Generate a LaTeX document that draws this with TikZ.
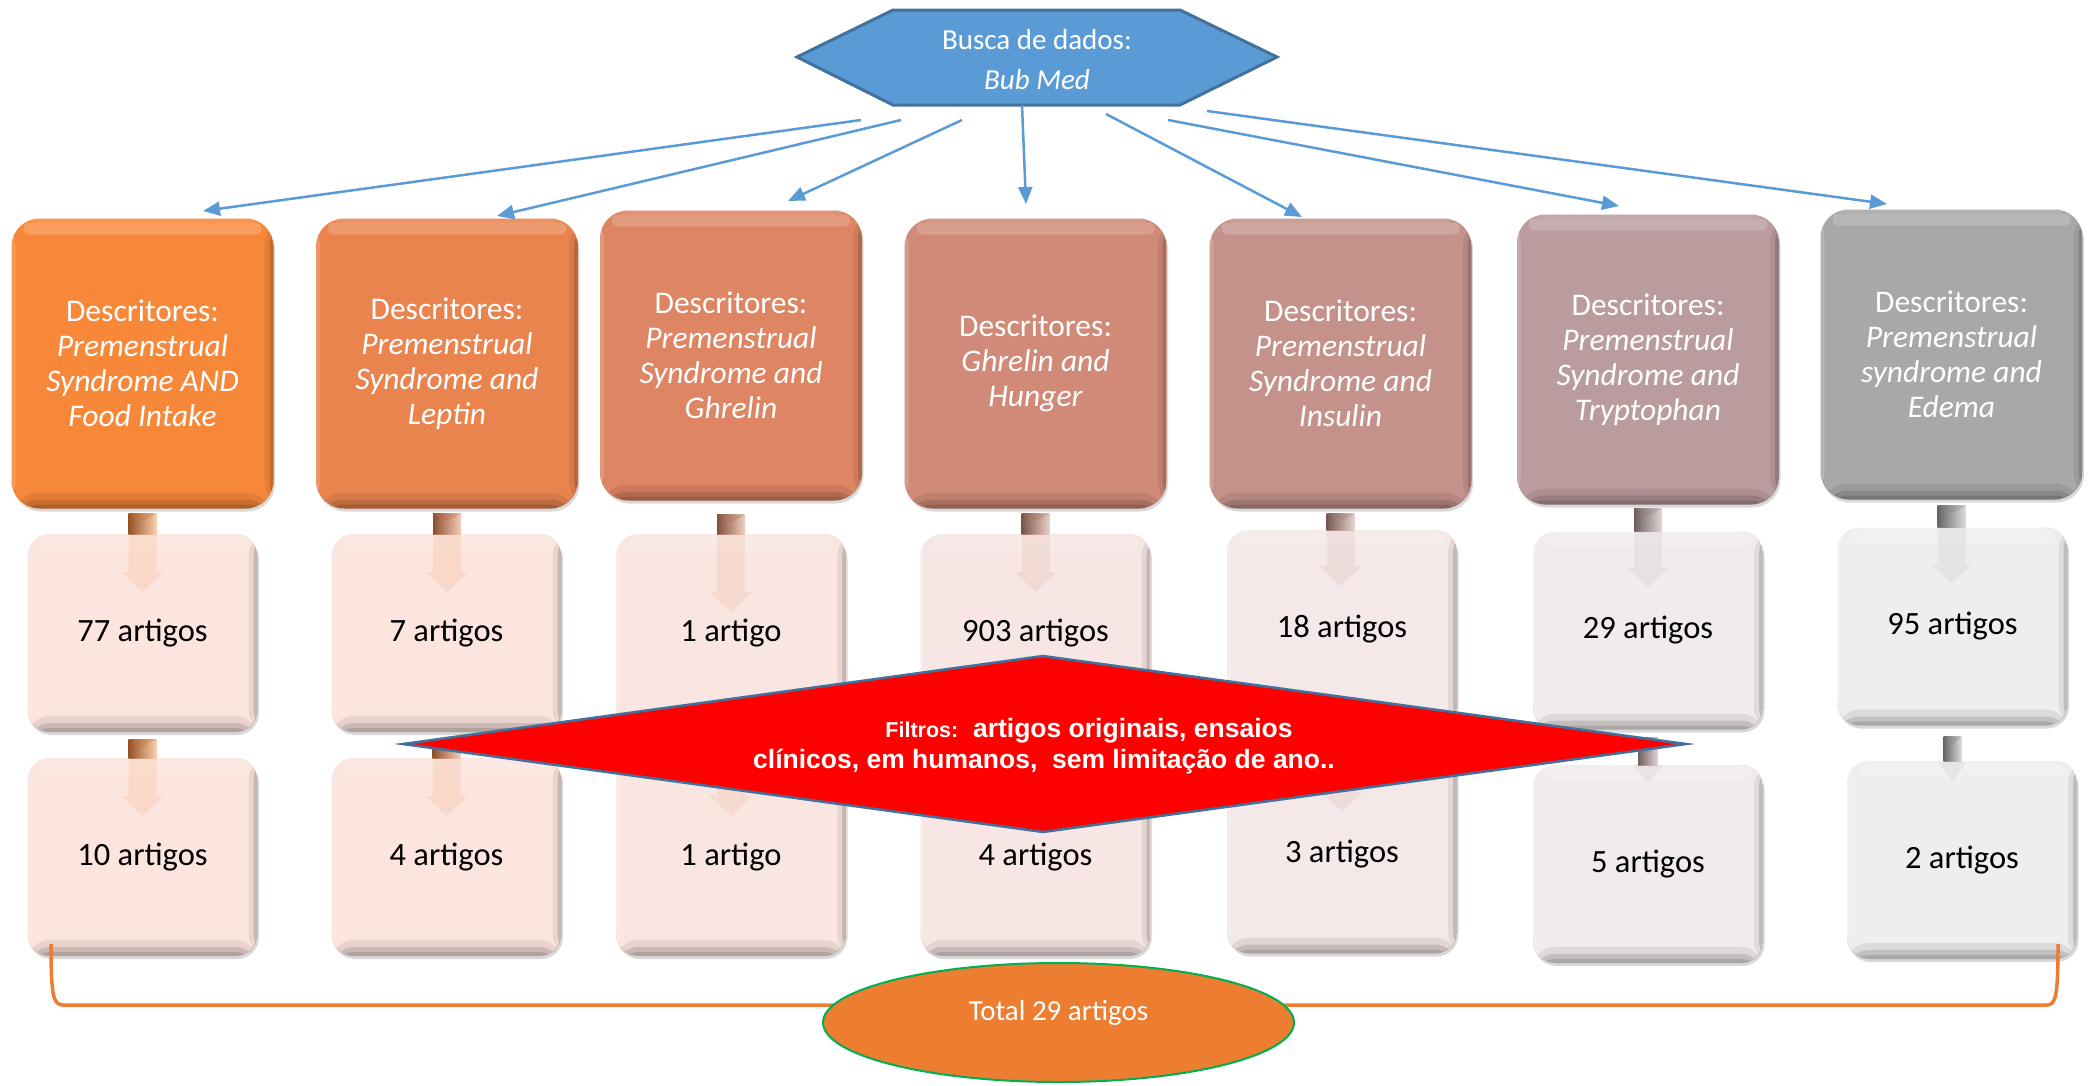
\documentclass[tikz,border=0pt]{standalone}
\usepackage{fontspec}
\setmainfont{Carlito}
\newfontfamily\arialfont{Liberation Sans}
\usetikzlibrary{arrows.meta,shapes.geometric,calc,shadows}

\definecolor{blueA}{HTML}{5B9BD5}
\definecolor{blueB}{HTML}{41719C}
\definecolor{orng}{HTML}{ED7D31}
\definecolor{grn}{HTML}{00B050}
\definecolor{cA}{HTML}{F7883A}
\definecolor{cB}{HTML}{EA844F}
\definecolor{cC}{HTML}{DE8563}
\definecolor{cD}{HTML}{D08A77}
\definecolor{cE}{HTML}{C4928A}
\definecolor{cF}{HTML}{BA9C9E}
\definecolor{cG}{HTML}{A8A8A8}
\definecolor{lA}{HTML}{FCE5DE}
\definecolor{lB}{HTML}{FCE5DE}
\definecolor{lC}{HTML}{FAE6E0}
\definecolor{lD}{HTML}{F7E6E3}
\definecolor{lE}{HTML}{F5E8E8}
\definecolor{lF}{HTML}{F1ECEB}
\definecolor{lG}{HTML}{EEEEEE}

\tikzset{
  bevel/.style={path picture={
    \fill[white,opacity=0.18,rounded corners=5pt]
      ([xshift=12pt,yshift=-4pt]path picture bounding box.north west) rectangle
      ([xshift=-12pt,yshift=-16pt]path picture bounding box.north east);
    \fill[white,opacity=0.12] (path picture bounding box.north west) rectangle ([yshift=-4pt]path picture bounding box.north east);
    \fill[black,opacity=0.08] ([yshift=16pt]path picture bounding box.south west) rectangle (path picture bounding box.south east);
    \fill[black,opacity=0.12] ([yshift=9pt]path picture bounding box.south west) rectangle (path picture bounding box.south east);
    \fill[black,opacity=0.12] ([yshift=4pt]path picture bounding box.south west) rectangle (path picture bounding box.south east);
    \fill[black,opacity=0.07] ([xshift=-9pt]path picture bounding box.north east) rectangle (path picture bounding box.south east);
    \fill[black,opacity=0.14] ([xshift=-4pt]path picture bounding box.north east) rectangle (path picture bounding box.south east);
    \fill[white,opacity=0.15] (path picture bounding box.north west) rectangle ([xshift=4pt]path picture bounding box.south west);
  }},
  boxbase/.style={bevel, inner sep=0pt, outer sep=0pt, align=center,
    drop shadow={shadow xshift=1.5pt, shadow yshift=-3pt, opacity=0.3}},
  topbox/.style={boxbase, rounded corners=28pt, minimum width=262pt, minimum height=290pt,
    text=white, font=\fontsize{31.5}{35}\selectfont},
  midbox/.style={boxbase, rounded corners=22pt, minimum width=230pt, minimum height=198pt,
    text=black, font=\fontsize{32.5}{36}\selectfont},
  feed/.style={blueA, line width=2.5pt, -{Triangle[length=17pt,width=14pt]}},
  whitetext/.style={text=white, inner sep=0pt},
}

% stub of a down arrow between two boxes: upper, lower, gap, depth, half shaft, half head, head length, colour
\newcommand\stubarrow[8]{%
  \shade[left color=#8!60!black, middle color=#8, right color=#8!40!white]
    let \p1=(#1.south), \p2=(#2.north) in
    ({\x1-#5pt},{\y1-#3pt}) rectangle ({\x1+#5pt},\y2);
  \fill[#8!80!black, opacity=0.3]
    let \p1=(#1.south), \p2=(#2.north) in
    ({\x1-#5pt},{\y1-#3pt}) -- (\x1,{\y1-#3pt-8pt}) -- ({\x1+#5pt},{\y1-#3pt}) -- cycle;
}
\newcommand\ghostarrow[8]{%
  \fill[#8!55!white, opacity=0.3]
    let \p1=(#1.south), \p2=(#2.north) in
    ({\x1-#5pt},\y2) -- ({\x1-#5pt},{\y2-#4pt+#7pt}) -- ({\x1-#6pt},{\y2-#4pt+#7pt})
    -- (\x1,{\y2-#4pt}) -- ({\x1+#6pt},{\y2-#4pt+#7pt}) -- ({\x1+#5pt},{\y2-#4pt+#7pt})
    -- ({\x1+#5pt},\y2) -- cycle;
}

\begin{document}
\begin{tikzpicture}[x=1pt,y=-1pt]
\useasboundingbox[fill=white] (0,0) rectangle (2094,1085);

% top boxes
\node[topbox, fill=cA] (t1) at (142.5,363.5) {Descritores:\\\textit{Premenstrual}\\\textit{Syndrome AND}\\\textit{Food Intake}};
\node[topbox, fill=cB] (t2) at (447,363.5) {Descritores:\\\textit{Premenstrual}\\\textit{Syndrome and}\\\textit{Leptin}};
\node[topbox, fill=cC] (t3) at (731,355.5) {Descritores:\\\textit{Premenstrual}\\\textit{Syndrome and}\\\textit{Ghrelin}};
\node[topbox, fill=cD] (t4) at (1035.5,363.5) {Descritores:\\\textit{Ghrelin and}\\\textit{Hunger}};
\node[topbox, fill=cE] (t5) at (1340.5,363.5) {Descritores:\\\textit{Premenstrual}\\\textit{Syndrome and}\\\textit{Insulin}};
\node[topbox, fill=cF] (t6) at (1648,359.5) {Descritores:\\\textit{Premenstrual}\\\textit{Syndrome and}\\\textit{Tryptophan}};
\node[topbox, fill=cG] (t7) at (1951.5,354.5) {Descritores:\\\textit{Premenstrual}\\\textit{syndrome and}\\\textit{Edema}};

% middle boxes
\node[midbox, fill=lA] (m1) at (142.5,633) {77 artigos};
\node[midbox, fill=lB] (m2) at (446.5,633) {7 artigos};
\node[midbox, fill=lC] (m3) at (731,633) {1 artigo};
\node[midbox, fill=lD] (m4) at (1035.5,633) {903 artigos};
\node[midbox, fill=lE] (m5) at (1342,629) {18 artigos};
\node[midbox, fill=lF] (m6) at (1648,630.5) {29 artigos};
\node[midbox, fill=lG] (m7) at (1952.5,626.5) {95 artigos};

% bottom boxes
\node[midbox, fill=lA] (b1) at (142.5,857) {10 artigos};
\node[midbox, fill=lB] (b2) at (446.5,857) {4 artigos};
\node[midbox, fill=lC] (b3) at (731,857) {1 artigo};
\node[midbox, fill=lD] (b4) at (1035.5,857) {4 artigos};
\node[midbox, fill=lE] (b5) at (1342,854.5) {3 artigos};
\node[midbox, fill=lF] (b6) at (1648,864) {5 artigos};
\node[midbox, fill=lG] (b7) at (1962,860) {2 artigos};

% down arrows between boxes
\stubarrow{t1}{m1}{5}{58}{14}{21}{20}{cA}
\stubarrow{m1}{b1}{7}{58}{14}{21}{20}{cA}
\stubarrow{t2}{m2}{5}{58}{14}{21}{20}{cB}
\stubarrow{m2}{b2}{7}{58}{14}{21}{20}{cB}
\stubarrow{t3}{m3}{14}{78}{14}{21}{20}{cC}
\stubarrow{m3}{b3}{7}{58}{14}{21}{20}{cC}
\stubarrow{t4}{m4}{5}{58}{14}{21}{20}{cD}
\stubarrow{m4}{b4}{7}{58}{14}{21}{20}{cD}
\stubarrow{t5}{m5}{5}{56}{14}{21}{20}{cE}
\stubarrow{m5}{b5}{7}{56}{14}{21}{20}{cE}
\stubarrow{t6}{m6}{4}{56}{14}{21}{20}{cF}
\stubarrow{m6}{b6}{8}{18}{10}{15}{18}{cF}
\stubarrow{t7}{m7}{6}{56}{14}{21}{20}{cG}
\stubarrow{m7}{b7}{11}{21}{9}{14}{20}{cG}

\ghostarrow{t1}{m1}{5}{58}{14}{21}{20}{cA}
\ghostarrow{m1}{b1}{7}{58}{14}{21}{20}{cA}
\ghostarrow{t2}{m2}{5}{58}{14}{21}{20}{cB}
\ghostarrow{m2}{b2}{7}{58}{14}{21}{20}{cB}
\ghostarrow{t3}{m3}{14}{78}{14}{21}{20}{cC}
\ghostarrow{m3}{b3}{7}{58}{14}{21}{20}{cC}
\ghostarrow{t4}{m4}{5}{58}{14}{21}{20}{cD}
\ghostarrow{m4}{b4}{7}{58}{14}{21}{20}{cD}
\ghostarrow{t5}{m5}{5}{56}{14}{21}{20}{cE}
\ghostarrow{m5}{b5}{7}{56}{14}{21}{20}{cE}
\ghostarrow{t6}{m6}{4}{56}{14}{21}{20}{cF}
\ghostarrow{m6}{b6}{8}{18}{10}{15}{18}{cF}
\ghostarrow{t7}{m7}{6}{56}{14}{21}{20}{cG}
\ghostarrow{m7}{b7}{11}{21}{9}{14}{20}{cG}

% search hexagon
\draw[fill=blueA, draw=blueB, line width=3pt, line join=miter]
  (797,57) -- (893,10) -- (1180,10) -- (1277,57) -- (1180,105) -- (893,105) -- cycle;
\node[whitetext, anchor=base, font=\fontsize{29}{32}\selectfont] (busca) at (1037,49) {Busca de dados:};
\node[whitetext, anchor=base, font=\fontsize{29}{32}\selectfont\itshape] (bubmed) at (1037,89) {Bub Med};

% feed connectors
\coordinate (s1) at (861,120);  \coordinate (e1) at (203,211);
\coordinate (s2) at (901,120);  \coordinate (e2) at (497,216);
\coordinate (s3) at (962,120);  \coordinate (e3) at (788,201);
\coordinate (s4) at (1022,105); \coordinate (e4) at (1026,204);
\coordinate (s5) at (1106,114); \coordinate (e5) at (1302,217);
\coordinate (s6) at (1168,120); \coordinate (e6) at (1619,206);
\coordinate (s7) at (1207,111); \coordinate (e7) at (1887,204);
\foreach \i in {1,...,7} \draw[feed] (s\i) -- (e\i);

% filter diamond
\draw[fill=red, draw=blueB, line width=2.5pt, line join=miter]
  (403,744) -- (1043,656) -- (1686,744) -- (1043,832) -- cycle;
\node[whitetext, anchor=base, font=\arialfont\bfseries\fontsize{26.5}{30}\selectfont] (fil1) at (1089,737)
  {{\fontsize{21.5}{25}\selectfont Filtros:}\ \ artigos originais, ensaios};
\node[whitetext, anchor=base, font=\arialfont\bfseries\fontsize{26.5}{30}\selectfont] (fil2) at (1044,768)
  {clínicos, em humanos,\ \ sem limitação de ano..};

% bracket and total
\coordinate (br1) at (51,944);
\coordinate (br2) at (2058,944);
\draw[orng, line width=3.5pt] (br1) .. controls (51,995) and (53,1005) .. (63,1005)
  -- (2047,1005) .. controls (2056,1005) and (2058,995) .. (br2);
\node[ellipse, fill=orng, draw=grn, line width=2pt, minimum width=471pt, minimum height=119pt, inner sep=0pt] (total) at (1058.5,1022.5) {};
\node[whitetext, anchor=base, font=\fontsize{29}{33}\selectfont] (totaltxt) at (1058.5,1020) {Total 29 artigos};
\end{tikzpicture}
\end{document}
